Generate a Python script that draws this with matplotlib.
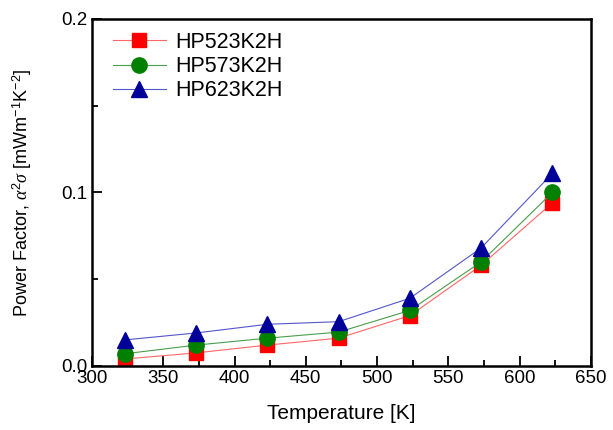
import matplotlib
matplotlib.use("Agg")
from matplotlib import pyplot as plt
from matplotlib.ticker import MultipleLocator, FormatStrFormatter

plt.rcParams['font.family'] = ['Liberation Sans', 'DejaVu Sans']
plt.rcParams['mathtext.fontset'] = 'custom'
plt.rcParams['mathtext.rm'] = 'Liberation Sans'
plt.rcParams['mathtext.it'] = 'Liberation Serif:italic'

# data
temperature = [323, 373, 423, 473, 523, 573, 623]
pf_523 = [0.004, 0.0075, 0.012, 0.016, 0.029, 0.058, 0.094]
pf_573 = [0.007, 0.012, 0.016, 0.0195, 0.032, 0.060, 0.100]
pf_623 = [0.015, 0.019, 0.024, 0.0255, 0.039, 0.068, 0.111]
labels = ['HP523K2H', 'HP573K2H', 'HP623K2H']

fig = plt.figure(figsize=(6.13, 4.30), dpi=100)
ax = fig.add_axes([0.150, 0.149, 0.814, 0.807])

styles = [
    (pf_523, 's', '#ff0000', '#ff6666', 9.5),
    (pf_573, 'o', '#008000', '#4a9e4a', 11),
    (pf_623, '^', '#000099', '#5555cc', 12),
]
for (vals, mk, mc, lc, ms), lab in zip(styles, labels):
    ax.plot(temperature, vals, color=lc, lw=0.8, marker=mk, ms=ms,
            markerfacecolor=mc, markeredgecolor=mc, label=lab)

ax.set_xlim(300, 650)
ax.set_ylim(0, 0.2)
ax.xaxis.set_major_locator(MultipleLocator(50))
ax.xaxis.set_minor_locator(MultipleLocator(25))
ax.yaxis.set_major_locator(MultipleLocator(0.1))
ax.yaxis.set_minor_locator(MultipleLocator(0.05))
ax.yaxis.set_major_formatter(FormatStrFormatter('%.1f'))

ax.tick_params(which='both', direction='in', width=1.3, labelsize=13.5,
               top=False, right=False)
ax.tick_params(which='major', length=7, pad=3)
ax.tick_params(which='minor', length=4)
for s in ax.spines.values():
    s.set_linewidth(1.8)

ax.set_xlabel('Temperature [K]', fontsize=15, labelpad=12)
ax.set_ylabel(r'Power Factor, $\alpha^2\sigma$ [mWm$^{-1}$K$^{-2}$]',
              fontsize=13, labelpad=20)

ax.legend(loc='upper left', frameon=False, fontsize=15.5, handlelength=2.45,
          handletextpad=0.45, labelspacing=0.15, borderaxespad=0.2,
          bbox_to_anchor=(0.016, 1.0))

fig.savefig('out.png', dpi=100)
